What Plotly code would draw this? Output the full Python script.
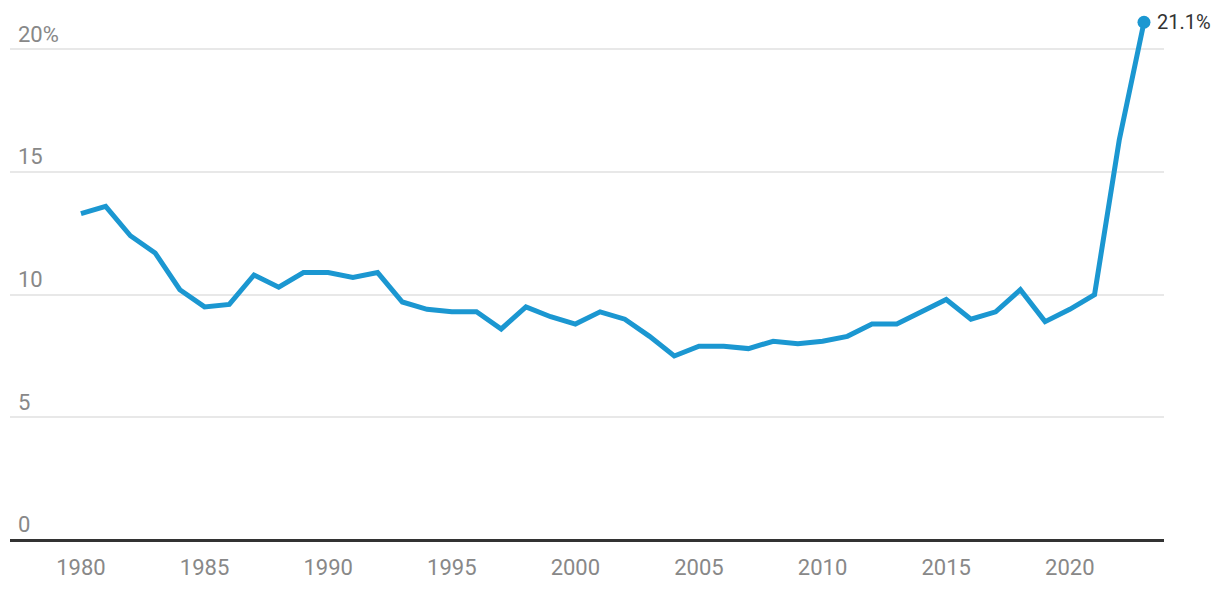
import plotly.graph_objects as go

years = list(range(1980, 2024))
values = [13.3, 13.6, 12.4, 11.7, 10.2, 9.5, 9.6, 10.8, 10.3, 10.9,
          10.9, 10.7, 10.9, 9.7, 9.4, 9.3, 9.3, 8.6, 9.5, 9.1,
          8.8, 9.3, 9.0, 8.3, 7.5, 7.9, 7.9, 7.8, 8.1, 8.0,
          8.1, 8.3, 8.8, 8.8, 9.3, 9.8, 9.0, 9.3, 10.2, 8.9,
          9.4, 10.0, 16.3, 21.1]
y_tickvals = [0, 5, 10, 15, 20]
y_ticktext = ["0", "5", "10", "15", "20%"]
x_tickvals = [1980, 1985, 1990, 1995, 2000, 2005, 2010, 2015, 2020]

LINE = "#1b97d1"
FONT = "Roboto, sans-serif"

fig = go.Figure()
fig.add_trace(go.Scatter(x=years, y=values, mode="lines",
                         line=dict(color=LINE, width=5), hoverinfo="skip"))
fig.add_trace(go.Scatter(x=[years[-1]], y=[values[-1]], mode="markers",
                         marker=dict(color=LINE, size=13), hoverinfo="skip"))
fig.add_annotation(x=years[-1], y=values[-1], text=f"{values[-1]}%",
                   showarrow=False, xanchor="left", yanchor="middle", xshift=11,
                   font=dict(family=FONT, size=20, color="#333333"))

fig.update_layout(
    width=1212, height=588,
    margin=dict(l=2, r=56, t=2, b=56),
    plot_bgcolor="white", paper_bgcolor="white",
    showlegend=False,
    font=dict(family=FONT, size=22, color="#888888"),
    xaxis=dict(range=[1977.13, 2023.81], tickvals=x_tickvals,
               showgrid=False, zeroline=False, showline=False, ticks="",
               ticklabelstandoff=12,
               tickfont=dict(size=22, color="#888888")),
    yaxis=dict(range=[0, 21.6], tickvals=y_tickvals, ticktext=y_ticktext,
               showgrid=True, gridcolor="#e8e8e8", gridwidth=1.5,
               zeroline=True, zerolinecolor="#333333", zerolinewidth=2.5,
               ticks="", ticklabelposition="inside top", ticklabelstandoff=5,
               tickfont=dict(size=22, color="#888888")),
)
fig.write_html("out.html")
